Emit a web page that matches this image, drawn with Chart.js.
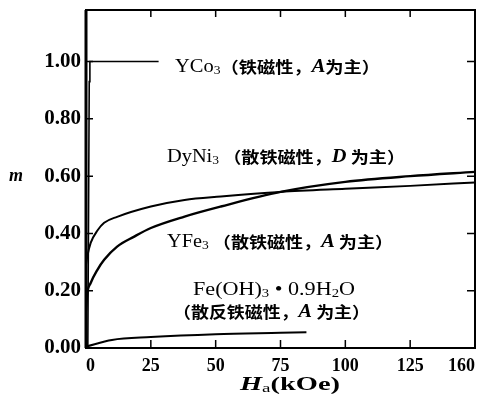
<!DOCTYPE html>
<html>
<head>
<meta charset="utf-8">
<script src="https://cdn.jsdelivr.net/npm/chart.js@4"></script>
<style>
  html, body { margin: 0; padding: 0; background: #fff; }
  #wrap { width: 478px; height: 396px; }
</style>
</head>
<body>
<div id="wrap"><canvas id="c"></canvas></div>
<script>
// ===== data =====
const xTickValues = [0, 25, 50, 75, 100, 125, 150];
const xTickLabels = ['0', '25', '50', '75', '100', '125', '160'];
const yTickValues = [0, 0.2, 0.4, 0.6, 0.8, 1.0];
const yTickLabels = ['0.00', '0.20', '0.40', '0.60', '0.80', '1.00'];

// YCo3
const ycoH = [0.7, 1.0, 1.25, 1.5, 28];
const ycoM = [0.0, 0.5, 0.93, 1.0, 1.0];
// curve starting high (~0.30)
const dyH = [0, 0.5, 1.8, 4.4, 7, 12, 25, 38, 52, 75, 100, 125, 150];
const dyM = [0.29, 0.32, 0.367, 0.41, 0.437, 0.458, 0.494, 0.517, 0.529, 0.545, 0.556, 0.566, 0.578];
// curve starting low (~0.13)
const yfeH = [0, 0.5, 1.8, 4.4, 7, 12, 18.6, 25, 38, 52, 75, 100, 125, 150];
const yfeM = [0.13, 0.19, 0.227, 0.273, 0.308, 0.354, 0.389, 0.419, 0.459, 0.494, 0.545, 0.58, 0.60, 0.615];
// Fe(OH)3 . 0.9H2O
const feH = [0, 10, 25, 50, 75, 85];
const feM = [0.005, 0.028, 0.038, 0.048, 0.053, 0.055];

const pts = (xs, ys) => xs.map((v, i) => ({ x: v, y: ys[i] }));

const SERIF = "'Liberation Serif', 'DejaVu Serif', serif";
const CJK = "'Noto Sans CJK SC', sans-serif";

// text labels: runs of [text, kind], kind: r = roman, s = subscript, i = italic, c = chinese, b = bold roman
const notes = [
  { x: 175, y: 67, w: 205, runs: [['YCo', 'r'], ['3', 's'], ['（铁磁性，', 'c'], ['A', 'i'], ['为主）', 'c']] },
  { x: 167, y: 157, w: 238, runs: [['DyNi', 'r'], ['3', 's'], [' （散铁磁性，', 'c'], ['D', 'i'], [' 为主）', 'c']] },
  { x: 167, y: 242, w: 226, runs: [['YFe', 'r'], ['3', 's'], [' （散铁磁性，', 'c'], ['A', 'i'], [' 为主）', 'c']] },
  { x: 193, y: 290, w: 162, runs: [['Fe(OH)', 'r'], ['3', 's'], [' • 0.9H', 'r'], ['2', 's'], ['O', 'r']] },
  { x: 173, y: 312, w: 197, runs: [['（散反铁磁性，', 'c'], ['A', 'i'], [' 为主）', 'c']] }
];

function runFont(kind) {
  if (kind === 'r') return '18px ' + SERIF;
  if (kind === 's') return '12px ' + SERIF;
  if (kind === 'i') return 'bold italic 18px ' + SERIF;
  if (kind === 'b') return 'bold 18px ' + SERIF;
  return 'bold 16px ' + CJK;
}

function drawRuns(ctx, x, y, w, runs) {
  let total = 0;
  runs.forEach(([t, k]) => { ctx.font = runFont(k); total += ctx.measureText(t).width; });
  ctx.save();
  ctx.translate(x, y);
  ctx.scale(w / total, 1);
  ctx.textBaseline = 'middle';
  ctx.textAlign = 'left';
  let cx = 0;
  runs.forEach(([t, k]) => {
    ctx.font = runFont(k);
    ctx.fillText(t, cx, k === 's' ? 4 : 0);
    cx += ctx.measureText(t).width;
  });
  ctx.restore();
}

const decor = {
  id: 'decor',
  afterDraw(chart) {
    const { ctx, chartArea: a, scales: { x, y } } = chart;
    ctx.save();
    ctx.strokeStyle = '#000';
    ctx.fillStyle = '#000';
    // frame
    ctx.lineWidth = 2;
    ctx.strokeRect(a.left, a.top, a.width, a.height);
    ctx.lineWidth = 3;
    ctx.beginPath(); ctx.moveTo(a.left, a.top); ctx.lineTo(a.left, a.bottom); ctx.stroke();
    // inward ticks
    ctx.lineWidth = 1.5;
    ctx.beginPath();
    xTickValues.slice(1, -1).forEach(v => {
      const px = x.getPixelForValue(v);
      ctx.moveTo(px, a.bottom); ctx.lineTo(px, a.bottom - 8);
      ctx.moveTo(px, a.top); ctx.lineTo(px, a.top + 7);
    });
    yTickValues.slice(1).forEach(v => {
      const py = y.getPixelForValue(v);
      ctx.moveTo(a.left, py); ctx.lineTo(a.left + 7, py);
      ctx.moveTo(a.right, py); ctx.lineTo(a.right - 8, py);
    });
    ctx.stroke();
    // curve labels
    notes.forEach(n => drawRuns(ctx, n.x, n.y, n.w, n.runs));
    // y axis label
    ctx.font = 'bold italic 18px ' + SERIF;
    ctx.textAlign = 'center';
    ctx.textBaseline = 'middle';
    ctx.fillText('m', 16, y.getPixelForValue(0.6));
    // x axis title
    drawRuns(ctx, 240, 385, 100, [['H', 'i'], ['a', 's'], ['(kOe)', 'b']]);
    ctx.restore();
  }
};

const lineStyle = { borderColor: '#000', backgroundColor: '#000', pointRadius: 0, fill: false, cubicInterpolationMode: 'monotone' };

new Chart(document.getElementById('c'), {
  type: 'line',
  data: {
    datasets: [
      { ...lineStyle, label: 'YCo3', data: pts(ycoH, ycoM), borderWidth: 1.6, cubicInterpolationMode: 'default', tension: 0 },
      { ...lineStyle, label: 'DyNi3', data: pts(dyH, dyM), borderWidth: 2 },
      { ...lineStyle, label: 'YFe3', data: pts(yfeH, yfeM), borderWidth: 2.4 },
      { ...lineStyle, label: 'Fe(OH)3', data: pts(feH, feM), borderWidth: 2 }
    ]
  },
  options: {
    responsive: true,
    maintainAspectRatio: false,
    animation: false,
    layout: { padding: { left: 0, right: 3, top: 10, bottom: 0 } },
    plugins: { legend: { display: false }, tooltip: { enabled: false } },
    scales: {
      x: {
        type: 'linear', min: 0, max: 150,
        grid: { display: false, drawTicks: false },
        border: { display: false },
        afterFit: s => { s.height = 48; s.paddingLeft = 0; s.paddingRight = 0; },
        afterBuildTicks: s => { s.ticks = xTickValues.map(v => ({ value: v })); },
        ticks: {
          padding: 8, color: '#000', align: 'inner',
          font: { family: SERIF, size: 18, weight: 'bold' },
          callback: (v) => xTickLabels[xTickValues.indexOf(v)]
        }
      },
      y: {
        type: 'linear', min: 0, max: 1.18,
        grid: { display: false, drawTicks: false },
        border: { display: false },
        afterFit: s => { s.width = 86; s.paddingTop = 0; s.paddingBottom = 0; },
        afterBuildTicks: s => { s.ticks = yTickValues.map(v => ({ value: v })); },
        ticks: {
          padding: 5, color: '#000',
          font: { family: SERIF, size: 21, weight: 'bold' },
          callback: (v) => yTickLabels[yTickValues.findIndex(t => Math.abs(t - v) < 1e-6)]
        }
      }
    }
  },
  plugins: [decor]
});
</script>
</body>
</html>
